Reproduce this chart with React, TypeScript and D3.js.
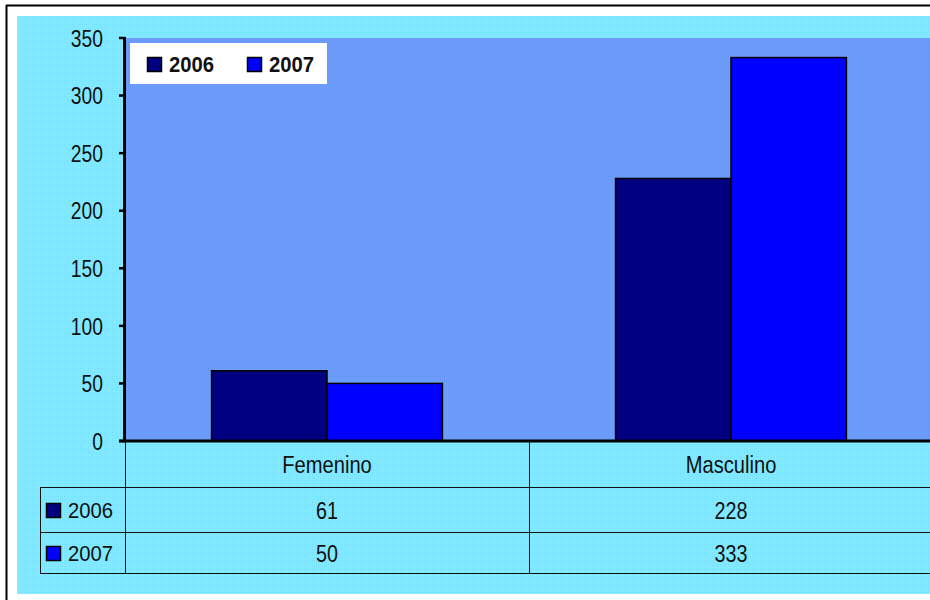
import React from "react";
import * as d3 from "d3";

const categories = ["Femenino", "Masculino"];
const seriesNames = ["2006", "2007"];
const values2006 = [61, 228];
const values2007 = [50, 333];
const yTicks = [0, 50, 100, 150, 200, 250, 300, 350];
const seriesColors = ["#000080", "#0000FF"];

const W = 930;
const H = 600;
const FONT = "'Liberation Sans', Arial, sans-serif";

type NTextProps = {
  x: number;
  y: number;
  sx: number;
  size: number;
  anchor?: "start" | "middle" | "end";
  bold?: boolean;
  children: React.ReactNode;
};

function NText({ x, y, sx, size, anchor = "start", bold = false, children }: NTextProps) {
  return (
    <text
      transform={`translate(${x},${y}) scale(${sx},1)`}
      textAnchor={anchor}
      dominantBaseline="central"
      fontSize={size}
      fontWeight={bold ? "bold" : "normal"}
      fill="#111"
    >
      {children}
    </text>
  );
}

export default function App() {
  const seriesValues = [values2006, values2007];
  const plotLeft = 125;
  const plotRight = 933;
  const plotTop = 38;
  const plotBottom = 441;

  const y = d3.scaleLinear().domain([0, 350]).range([plotBottom, plotTop]);
  const x = d3.scaleBand<string>().domain(categories).range([plotLeft, plotRight]).padding(0);
  const xs = d3
    .scaleBand<string>()
    .domain(seriesNames)
    .range([0, x.bandwidth()])
    .paddingInner(0)
    .paddingOuter(0.75);

  const rowTops = [441, 487, 532, 573];
  const tableLeft = 40;

  return (
    <div style={{ position: "fixed", left: 0, top: 0 }}>
      <svg width={W} height={H} style={{ display: "block", fontFamily: FONT }}>
        <defs>
          <pattern id="cyanPat" width="2" height="2" patternUnits="userSpaceOnUse">
            <rect width="2" height="2" fill="#84EAFF" />
            <rect width="1" height="1" fill="#76E0FC" />
          </pattern>
          <pattern id="bluePat" width="2" height="2" patternUnits="userSpaceOnUse">
            <rect width="2" height="2" fill="#6F9EFA" />
            <rect width="1" height="1" fill="#6394F4" />
          </pattern>
        </defs>
        <rect x={0} y={0} width={W} height={H} fill="#fff" />
        {/* outer border */}
        <line x1={6.5} y1={5} x2={6.5} y2={H} stroke="#000" strokeWidth={2} />
        <line x1={6} y1={5.5} x2={W} y2={5.5} stroke="#000" strokeWidth={2} />
        {/* chart area */}
        <rect x={17} y={16} width={W - 17} height={578} fill="url(#cyanPat)" />
        {/* plot area */}
        <rect x={plotLeft} y={plotTop} width={plotRight - plotLeft} height={plotBottom - plotTop} fill="url(#bluePat)" />

        {/* bars */}
        {categories.map((c, ci) =>
          seriesNames.map((s, si) => {
            const v = seriesValues[si][ci];
            const bx = (x(c) ?? 0) + (xs(s) ?? 0);
            return (
              <rect
                key={c + s}
                x={bx}
                y={y(v)}
                width={xs.bandwidth()}
                height={plotBottom - y(v)}
                fill={seriesColors[si]}
                stroke="#000"
                strokeWidth={1.5}
              />
            );
          })
        )}

        {/* y axis */}
        <line x1={plotLeft - 0.5} y1={plotTop - 1} x2={plotLeft - 0.5} y2={plotBottom + 1} stroke="#000" strokeWidth={3} />
        {yTicks.map((t) => (
          <g key={t}>
            <line x1={119} x2={plotLeft} y1={y(t)} y2={y(t)} stroke="#000" strokeWidth={2.5} />
            <NText x={103} y={y(t) + 1} sx={0.82} size={23.5} anchor="end">
              {t}
            </NText>
          </g>
        ))}

        {/* data table */}
        {rowTops.slice(1).map((ry) => (
          <line key={ry} x1={tableLeft} x2={W} y1={ry + 0.5} y2={ry + 0.5} stroke="#111" strokeWidth={1} />
        ))}
        <line x1={tableLeft + 0.5} x2={tableLeft + 0.5} y1={rowTops[1]} y2={rowTops[3]} stroke="#111" strokeWidth={1} />
        <line x1={plotLeft + 0.5} x2={plotLeft + 0.5} y1={plotBottom} y2={rowTops[3]} stroke="#111" strokeWidth={1} />
        {categories.slice(1).map((c) => (
          <line key={c} x1={(x(c) ?? 0) + 0.5} x2={(x(c) ?? 0) + 0.5} y1={plotBottom} y2={rowTops[3]} stroke="#111" strokeWidth={1} />
        ))}
        {/* x axis baseline */}
        <line x1={plotLeft - 6} x2={W} y1={plotBottom} y2={plotBottom} stroke="#000" strokeWidth={3} />

        {categories.map((c) => (
          <NText key={c} x={(x(c) ?? 0) + x.bandwidth() / 2} y={(rowTops[0] + rowTops[1]) / 2 + 1} sx={0.84} size={24} anchor="middle">
            {c}
          </NText>
        ))}
        {seriesNames.map((s, si) => {
          const cy = (rowTops[si + 1] + rowTops[si + 2]) / 2 + 1;
          return (
            <g key={s}>
              <rect x={46.5} y={cy - 7} width={14} height={14} fill={seriesColors[si]} stroke="#000" strokeWidth={1.5} />
              <NText x={68} y={cy} sx={0.9} size={22.5}>
                {s}
              </NText>
              {categories.map((c, ci) => (
                <NText key={c} x={(x(c) ?? 0) + x.bandwidth() / 2} y={cy} sx={0.84} size={23.5} anchor="middle">
                  {seriesValues[si][ci]}
                </NText>
              ))}
            </g>
          );
        })}

        {/* legend */}
        <rect x={130} y={43} width={197} height={41} fill="#fff" />
        {seriesNames.map((s, si) => {
          const lx = 147 + si * 100;
          return (
            <g key={s}>
              <rect x={lx + 0.5} y={57.5} width={14} height={14} fill={seriesColors[si]} stroke="#000" strokeWidth={1.5} />
              <NText x={lx + 22} y={64.5} sx={0.9} size={22.5} bold>
                {s}
              </NText>
            </g>
          );
        })}
      </svg>
    </div>
  );
}
